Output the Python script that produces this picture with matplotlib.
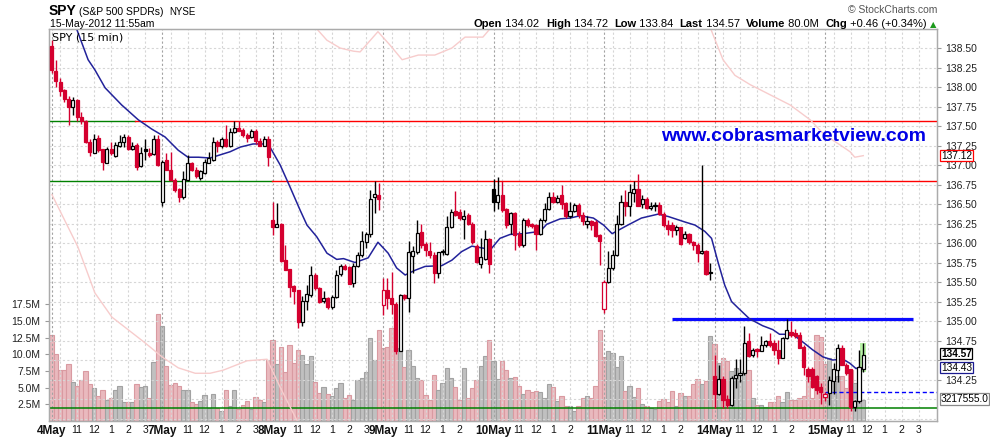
import matplotlib
matplotlib.use('Agg')
import matplotlib.pyplot as plt
import matplotlib.transforms as mtransforms
from matplotlib.patches import Rectangle
import numpy as np

plt.rcParams['font.family'] = ['Liberation Sans', 'DejaVu Sans']

# SPY 15 min bars, 26 bars per session
days = ['4May', '7May', '8May', '9May', '10May', '11May', '14May', '15May']
hour_labels = ['11', '12', '1', '2', '3']
bars_per_day = 26

opens = [
    138.52, 138.21, 138.07, 137.96, 137.85, 137.74, 137.83, 137.61, 137.56, 137.29,
    137.16, 137.35, 137.20, 137.03, 137.21, 137.11, 137.24, 137.30, 137.36, 137.21,
    137.26, 136.99, 137.20, 137.16, 137.14, 137.33,
    136.52, 137.06, 136.94, 136.81, 136.69, 136.59, 136.81, 137.02, 136.93, 136.84,
    136.90, 137.03, 137.06, 137.30, 137.25, 137.34, 137.25, 137.42, 137.48, 137.45,
    137.38, 137.36, 137.43, 137.31, 137.25, 137.33,
    136.30, 136.20, 136.24, 135.78, 135.67, 135.45, 135.40, 134.99, 135.26, 135.33,
    135.59, 135.42, 135.26, 135.29, 135.18, 135.31, 135.60, 135.71, 135.69, 135.49,
    135.71, 135.84, 136.01, 136.12, 136.59, 136.62,
    135.21, 135.40, 135.29, 135.22, 134.62, 135.33, 135.30, 135.83, 135.88, 136.14,
    135.99, 135.90, 135.85, 135.62, 135.88, 135.86, 136.20, 136.41, 136.40, 136.31,
    136.36, 136.25, 135.96, 135.73, 135.80, 136.05,
    136.69, 136.52, 136.62, 136.44, 136.24, 136.38, 136.12, 135.97, 136.29, 136.24,
    136.23, 136.12, 136.29, 136.44, 136.59, 136.53, 136.61, 136.51, 136.34, 136.41,
    136.49, 136.36, 136.25, 136.28, 136.27, 136.10,
    135.16, 135.50, 135.68, 135.84, 136.24, 136.52, 136.47, 136.64, 136.69, 136.50,
    136.57, 136.45, 136.47, 136.49, 136.37, 136.23, 136.23, 136.17, 136.20, 136.06,
    136.11, 136.01, 135.98, 135.87, 135.90, 135.63,
    134.30, 134.07, 134.26, 134.00, 133.92, 134.27, 134.31, 134.33, 134.75, 134.56,
    134.64, 134.62, 134.69, 134.74, 134.72, 134.63, 134.53, 134.78, 134.86, 134.85,
    134.82, 134.67, 134.39, 134.38, 134.29, 134.16,
    134.02, 134.08, 134.23, 134.37, 134.66, 134.44, 134.38, 133.90, 133.97, 134.39,
]
highs = [
    138.60, 138.35, 138.11, 137.98, 137.88, 137.87, 137.85, 137.68, 137.58, 137.34,
    137.40, 137.38, 137.21, 137.23, 137.30, 137.30, 137.38, 137.40, 137.38, 137.30,
    137.28, 137.23, 137.33, 137.22, 137.38, 137.38,
    137.06, 137.16, 137.17, 136.83, 136.70, 136.92, 137.13, 137.04, 136.97, 136.94,
    137.08, 137.17, 137.36, 137.32, 137.36, 137.51, 137.48, 137.56, 137.56, 137.48,
    137.41, 137.46, 137.46, 137.35, 137.37, 137.37,
    136.52, 136.51, 136.26, 135.98, 135.67, 135.46, 135.40, 135.32, 135.46, 135.71,
    135.61, 135.44, 135.39, 135.31, 135.33, 135.65, 135.73, 135.73, 135.71, 135.74,
    135.88, 136.16, 136.14, 136.68, 136.80, 136.77,
    135.55, 135.55, 135.63, 135.24, 135.35, 135.35, 136.03, 135.96, 136.29, 136.25,
    136.01, 136.01, 135.88, 135.89, 135.92, 136.34, 136.43, 136.67, 136.44, 136.42,
    136.38, 136.27, 135.99, 136.07, 136.17, 136.06,
    136.82, 136.85, 136.79, 136.45, 136.40, 136.40, 136.15, 136.32, 136.32, 136.26,
    136.25, 136.32, 136.51, 136.66, 136.65, 136.62, 136.74, 136.53, 136.53, 136.51,
    136.51, 136.40, 136.34, 136.29, 136.29, 136.12,
    135.53, 135.90, 135.91, 136.36, 136.62, 136.68, 136.76, 136.79, 136.89, 136.62,
    136.59, 136.53, 136.53, 136.53, 136.40, 136.29, 136.27, 136.23, 136.21, 136.15,
    136.13, 136.03, 136.00, 137.00, 135.91, 135.74,
    134.56, 134.44, 134.29, 134.05, 134.29, 134.51, 134.51, 134.93, 134.84, 134.65,
    134.65, 134.81, 134.76, 134.84, 134.76, 134.76, 134.80, 135.02, 135.00, 134.90,
    134.86, 134.69, 134.41, 134.41, 134.31, 134.20,
    134.09, 134.29, 134.46, 134.70, 134.69, 134.46, 134.39, 133.99, 134.63, 134.72,
]
lows = [
    138.18, 138.00, 137.88, 137.81, 137.51, 137.64, 137.56, 137.53, 137.28, 137.11,
    137.15, 137.17, 136.93, 137.02, 137.13, 137.10, 137.23, 137.23, 137.19, 137.19,
    136.93, 136.98, 137.07, 137.10, 137.13, 136.99,
    136.47, 136.93, 136.79, 136.65, 136.53, 136.57, 136.80, 136.92, 136.83, 136.81,
    136.89, 137.02, 137.05, 137.17, 137.22, 137.23, 137.23, 137.41, 137.43, 137.36,
    137.30, 137.35, 137.27, 137.24, 137.24, 136.99,
    136.10, 136.20, 135.76, 135.66, 135.31, 135.22, 134.91, 134.94, 135.14, 135.31,
    135.40, 135.23, 135.23, 135.16, 135.16, 135.30, 135.58, 135.66, 135.47, 135.44,
    135.69, 135.82, 135.93, 136.08, 136.39, 136.42,
    135.08, 135.16, 135.09, 134.58, 134.61, 135.27, 135.12, 135.62, 135.86, 135.93,
    135.83, 135.81, 135.49, 135.55, 135.85, 135.84, 136.19, 136.34, 136.30, 136.05,
    136.23, 135.99, 135.75, 135.68, 135.78, 135.62,
    136.41, 136.44, 136.40, 136.19, 136.12, 135.91, 135.95, 135.95, 136.21, 136.19,
    135.91, 136.10, 136.27, 136.42, 136.51, 136.51, 136.44, 136.32, 136.32, 136.40,
    136.32, 136.23, 136.19, 136.17, 136.08, 135.72,
    135.10, 135.49, 135.66, 135.83, 136.23, 136.34, 136.34, 136.53, 136.48, 136.45,
    136.44, 136.42, 136.41, 136.36, 136.21, 136.10, 136.08, 136.10, 135.97, 136.05,
    135.99, 135.91, 135.76, 135.86, 135.59, 135.53,
    133.88, 134.05, 133.88, 133.88, 133.91, 134.14, 134.22, 134.31, 134.54, 134.54,
    134.54, 134.61, 134.67, 134.67, 134.57, 134.45, 134.52, 134.77, 134.80, 134.78,
    134.65, 134.31, 134.22, 134.14, 134.06, 133.94,
    133.98, 133.92, 134.07, 134.22, 134.44, 134.31, 133.84, 133.84, 133.95, 134.35,
]
closes = [
    138.22, 138.08, 137.95, 137.85, 137.74, 137.83, 137.61, 137.56, 137.29, 137.17,
    137.34, 137.19, 137.04, 137.20, 137.15, 137.26, 137.30, 137.36, 137.21, 137.25,
    136.98, 137.16, 137.18, 137.13, 137.33, 137.00,
    137.04, 136.94, 136.81, 136.68, 136.59, 136.82, 137.02, 136.94, 136.86, 136.92,
    137.04, 137.09, 137.30, 137.24, 137.34, 137.24, 137.42, 137.47, 137.44, 137.38,
    137.35, 137.43, 137.31, 137.25, 137.33, 137.10,
    136.21, 136.24, 135.77, 135.66, 135.43, 135.39, 134.99, 135.26, 135.34, 135.59,
    135.42, 135.25, 135.29, 135.18, 135.31, 135.59, 135.71, 135.67, 135.48, 135.70,
    135.84, 136.02, 136.11, 136.56, 136.63, 136.56,
    135.40, 135.29, 135.22, 134.62, 135.33, 135.30, 135.88, 135.90, 136.13, 135.98,
    135.91, 135.85, 135.62, 135.89, 135.89, 136.20, 136.40, 136.36, 136.32, 136.35,
    136.24, 136.01, 135.76, 135.82, 136.05, 135.73,
    136.52, 136.62, 136.42, 136.23, 136.38, 136.10, 135.97, 136.29, 136.23, 136.22,
    136.12, 136.29, 136.44, 136.59, 136.53, 136.58, 136.50, 136.35, 136.41, 136.49,
    136.36, 136.28, 136.28, 136.23, 136.09, 136.02,
    135.50, 135.68, 135.85, 136.24, 136.52, 136.47, 136.65, 136.69, 136.48, 136.57,
    136.45, 136.47, 136.49, 136.37, 136.23, 136.18, 136.17, 136.20, 135.99, 136.11,
    136.01, 135.98, 135.87, 135.90, 135.60, 135.61,
    134.07, 134.26, 133.99, 133.92, 134.27, 134.31, 134.33, 134.72, 134.55, 134.63,
    134.61, 134.69, 134.74, 134.69, 134.63, 134.52, 134.78, 134.89, 134.82, 134.81,
    134.66, 134.41, 134.29, 134.16, 134.11, 134.09,
    134.07, 134.24, 134.38, 134.66, 134.44, 134.33, 133.90, 133.97, 134.41, 134.57,
]
# volume in millions of shares
volume = [
    12.9, 10.0, 7.6, 7.6, 8.5, 5.9, 5.2, 6.2, 7.5, 5.5, 5.0, 3.7, 4.7, 3.1, 3.4, 4.6,
    5.3, 2.8, 2.9, 2.9, 5.5, 5.1, 5.3, 3.4, 8.9, 16.1,
    14.2, 8.2, 5.4, 5.7, 5.2, 4.7, 4.6, 2.8, 2.6, 3.0, 3.9, 2.0, 4.0, 2.0, 1.5, 4.7,
    2.2, 4.7, 1.8, 2.4, 3.0, 1.8, 3.6, 3.2, 2.9, 9.1,
    12.1, 8.6, 11.1, 7.4, 11.4, 8.7, 10.6, 9.9, 8.5, 9.7, 5.9, 4.2, 5.1, 4.0, 3.8, 5.0,
    5.7, 3.5, 3.9, 3.2, 6.2, 6.5, 7.3, 12.5, 9.2, 13.6,
    11.0, 11.1, 14.0, 11.0, 11.0, 8.1, 10.7, 8.2, 6.4, 6.2, 3.9, 3.1, 6.9, 4.7, 5.7, 7.9,
    6.4, 5.1, 3.2, 8.0, 3.5, 5.0, 6.1, 8.2, 9.7, 12.2,
    9.0, 6.3, 9.0, 7.7, 6.5, 6.6, 5.3, 4.0, 4.7, 4.3, 4.5, 4.4, 3.4, 5.5, 5.1, 3.0,
    3.7, 2.3, 2.2, 1.5, 2.3, 3.4, 3.8, 3.5, 5.3, 13.6,
    9.6, 10.5, 10.2, 8.1, 9.7, 4.5, 5.2, 3.6, 4.9, 2.5, 2.2, 1.9, 1.8, 3.0, 3.3, 2.8,
    4.5, 2.2, 4.2, 3.8, 3.7, 5.5, 6.3, 5.5, 6.0, 12.7,
    11.5, 8.7, 9.4, 9.0, 7.5, 8.0, 6.2, 7.5, 7.7, 3.4, 2.4, 2.4, 2.1, 2.8, 2.8, 3.7,
    2.9, 4.3, 3.1, 3.1, 3.4, 3.7, 7.0, 3.4, 12.9, 12.6,
    8.6, 9.4, 6.5, 6.7, 6.7, 5.0, 7.7, 5.7, 5.0, 3.2,
]

# moving average overlay (bar position, price)
ma_pos = [5.5, 6.0, 8.6, 10.2, 12.6, 16.5, 20.4, 23.6, 26.7, 29.8, 32.1, 34.6, 37.3,
          42.0, 44.4, 47.4, 50.2, 51.4, 53.8, 56.1, 58.5, 60.1, 62.4, 64.8, 67.1,
          68.7, 71.4, 74.5, 76.8, 79.2, 81.2, 83.2, 85.5, 87.9, 91.8, 94.2, 96.5,
          98.9, 102.0, 103.2, 105.5, 107.9, 111.0, 115.0, 116.5, 119.7, 122.0, 124.4,
          127.5, 129.9, 131.9, 135.6, 138.8, 142.7, 145.1, 149.0, 151.4, 153.7, 155.3,
          156.8, 158.4, 160.0, 161.5, 164.2, 167.3, 169.7, 171.3, 174.4, 176.8, 179.1,
          181.5, 183.8, 186.2, 187.8, 189.3, 191.0]
ma_val = [138.80, 138.73, 138.35, 138.22, 137.99, 137.77, 137.58, 137.46, 137.36, 137.19,
          137.10, 137.10, 137.09, 137.17, 137.23, 137.27, 137.27, 137.23, 137.00, 136.72,
          136.42, 136.23, 136.08, 135.87, 135.79, 135.80, 135.75, 135.81, 136.01, 135.87,
          135.68, 135.59, 135.65, 135.70, 135.71, 135.78, 135.89, 135.96, 135.93, 135.91,
          136.06, 136.11, 136.12, 136.15, 136.24, 136.31, 136.32, 136.35, 136.32, 136.23,
          136.12, 136.23, 136.32, 136.37, 136.34, 136.27, 136.23, 136.15, 136.06, 135.76,
          135.46, 135.25, 135.17, 135.03, 134.94, 134.89, 134.83, 134.83, 134.73, 134.63,
          134.54, 134.50, 134.51, 134.46, 134.39, 134.43]

# light pink overlay, leaves the chart at the bottom and comes back from the top
pink_pos = [0.1, 6.2, 10.2, 14.2, 22.0, 26.0, 29.8, 33.8, 37.3, 40.4, 46.0, 50.7, 53.8,
            57.8, 59.0, 60.5, 62.0, 62.5, 64.8, 67.9, 71.0, 72.6, 76.8, 79.6, 82.5, 86.3,
            90.2, 94.2, 97.3, 101.5, 104.0, 154.5, 155.0, 158.0, 160.8, 164.4, 169.1,
            173.8, 178.5, 182.0, 185.5, 187.9, 189.0, 191.0]
pink_val = [136.62, 135.95, 135.36, 135.05, 134.72, 134.54, 134.40, 134.33, 134.33, 134.37,
            134.49, 134.51, 134.15, 133.72, 133.50, np.nan, 138.90, 138.74, 138.60, 138.50,
            138.46, 138.45, 138.71, 138.54, 138.35, 138.41, 138.41, 138.50, 138.64, 138.64,
            138.80, 138.80, 138.76, 138.35, 138.15, 138.03, 137.90, 137.77, 137.58, 137.38,
            137.26, 137.17, 137.10, 137.12]

price_ticks = [134.25, 134.50, 134.75, 135.00, 135.25, 135.50, 135.75, 136.00, 136.25,
               136.50, 136.75, 137.00, 137.25, 137.50, 137.75, 138.00, 138.25, 138.50]
price_grid = [133.75, 134.00] + price_ticks
vol_ticks = [2.5, 5.0, 7.5, 10.0, 12.5, 15.0, 17.5]

RED = '#d4002f'
W, H = 990, 438


def fx(x):
    return x / W


def fy(y):
    return 1 - y / H


def tag(axis, y, text, edge, weight='normal'):
    trans = mtransforms.blended_transform_factory(axis.transAxes, axis.transData)
    axis.text(1.0 + 4 / 888, y, text, transform=trans, ha='left', va='center',
              fontsize=7.3, fontweight=weight, zorder=10, clip_on=False,
              bbox=dict(boxstyle='square,pad=0.06', fc='white', ec=edge, lw=0.9))


fig = plt.figure(figsize=(W / 100, H / 100), dpi=100)
axv = fig.add_axes([fx(49), fy(421), (937 - 49) / W, (421 - 29) / H])
ax = axv.twinx()
ax.patch.set_visible(False)

idx = np.arange(len(closes))
o = np.array(opens)
c = np.array(closes)
prev = np.r_[o[0], c[:-1]]
down = c < prev
filled = c < o
col = np.where(down, RED, 'black')

# volume
axv.bar(idx, volume, width=1.0, color=np.where(down, '#e9b9be', '#c0c0c0'),
        edgecolor=np.where(down, '#d99aa1', '#a2a2a2'), linewidth=0.8, zorder=2)
axv.axhline(1.9, color='#008000', lw=1.1, zorder=3)
axv.plot([bars_per_day * 7, 210], [4.4, 4.4], color='#0000ff', lw=1.0,
         ls=(0, (3, 2)), zorder=3)
axv.set_ylim(0, 58.8)
axv.set_yticks(vol_ticks, [f'{v:.1f}M' for v in vol_ticks])

# vertical grid: day starts darker, hours lighter
for d in range(len(days)):
    start = d * bars_per_day
    axv.axvline(start, color='#a3a3a3', lw=0.8, ls=(0, (2, 2)), zorder=2.5)
    for h in [2, 6, 10, 14, 18, 22]:
        axv.axvline(start + h, color='#d6d6d6', lw=0.8, ls=(0, (2, 2)), zorder=2.5)

for p in price_grid:
    ax.axhline(p, color='#d6d6d6', lw=0.8, ls=(0, (2, 2)), zorder=0.5)

# horizontal levels
x_end = 210
ax.plot([-1, 19.6], [137.57, 137.57], color='#008000', lw=1.0, zorder=1)
ax.plot([19.6, x_end], [137.57, 137.57], color='#ff0000', lw=1.0, zorder=1)
ax.plot([-1, 51.9], [136.79, 136.79], color='#008000', lw=1.0, zorder=1)
ax.plot([51.9, x_end], [136.79, 136.79], color='#ff0000', lw=1.0, zorder=1)
ax.plot([146, 202.7], [135.03, 135.03], color='#0a0aff', lw=2.3, zorder=1,
        solid_capstyle='butt')

ax.plot(pink_pos, pink_val, color='#f7cccc', lw=1.0, zorder=1.5)
ax.plot(ma_pos, ma_val, color='#22229a', lw=1.1, zorder=2)

# highlight of the latest bar
last = len(closes) - 1
ax.add_patch(Rectangle((last - 0.7, lows[last] - 0.01), 1.4,
                       highs[last] - lows[last] + 0.01, fc='#b8f2a6', ec='none',
                       zorder=2.2))

# candles
ax.vlines(idx, lows, highs, colors=col, lw=1.0, zorder=3)
body_low = np.minimum(o, c)
body_h = np.maximum(np.abs(c - o), 0.012)
ax.bar(idx, body_h, bottom=body_low, width=0.72,
       color=np.where(filled, col, 'white'), edgecolor=col, linewidth=0.9, zorder=4)

ax.set_ylim(133.718, 138.744)
ax.set_xlim(-0.6, 208.35)
# the 134.50 label sits behind the last-price tags
ax.set_yticks(price_ticks, ['' if p == 134.50 else f'{p:.2f}' for p in price_ticks])

for a in (ax, axv):
    for s in a.spines.values():
        s.set_color('#ababab')
        s.set_linewidth(0.9)
ax.tick_params(axis='y', labelsize=7.5, length=3, width=0.8, color='#9a9a9a',
               pad=3, labelcolor='#222222')
axv.tick_params(axis='y', labelsize=7.5, length=3, width=0.8, color='#9a9a9a',
                pad=3, labelcolor='#222222')

# time axis labels; the 3pm label is dropped when a wide date label follows
xt, xl = [], []
for d, name in enumerate(days):
    xt.append(d * bars_per_day)
    xl.append(name)
    nxt = days[d + 1] if d + 1 < len(days) else ''
    for k, h in enumerate(hour_labels):
        if h == '3' and len(nxt) > 4:
            continue
        xt.append(d * bars_per_day + 6 + 4 * k)
        xl.append(h)
axv.set_xticks(xt, xl)
for lab in axv.get_xticklabels():
    if 'May' in lab.get_text():
        lab.set_fontweight('bold')
        lab.set_fontsize(8.5)
    else:
        lab.set_fontsize(7.5)
axv.tick_params(axis='x', length=0, pad=3, labelcolor='#111111')

# value tags on the right
tag(ax, 137.12, '137.12', '#ff0000')
tag(ax, 134.58, '134.57', 'black', 'bold')
tag(ax, 134.40, '134.43', '#1a1a90')
tag(axv, 3.3, '3217555.0', '#888888')

# header
fig.text(fx(49), fy(15), 'SPY', fontsize=10, fontweight='bold', va='baseline')
fig.text(fx(79), fy(15), '(S&P 500 SPDRs)', fontsize=7.5, va='baseline')
fig.text(fx(169), fy(15), 'NYSE', fontsize=7, va='baseline')
fig.text(fx(50), fy(27), '15-May-2012 11:55am', fontsize=7.5, va='baseline')
fig.text(fx(937), fy(13), '\u00a9 StockCharts.com', fontsize=7.5, color='#555555',
         ha='right', va='baseline')
ax.text(3 / 888, 1 - 11 / 392, 'SPY (15 min)', transform=ax.transAxes, fontsize=8,
        family='DejaVu Sans', va='baseline', zorder=6)

pieces = [('Open', 'bold'), (' 134.02  ', 'normal'), ('High', 'bold'),
          (' 134.72  ', 'normal'), ('Low', 'bold'), (' 133.84  ', 'normal'),
          ('Last', 'bold'), (' 134.57  ', 'normal'), ('Volume', 'bold'),
          (' 80.0M  ', 'normal'), ('Chg', 'bold'), (' +0.46 (+0.34%) ', 'normal')]
t = fig.text(fx(474), fy(27), pieces[0][0], fontsize=8, fontweight=pieces[0][1],
             va='baseline')
for txt, wt in pieces[1:]:
    t = ax.annotate(txt, xy=(1, 0), xycoords=t, fontsize=8, fontweight=wt,
                    va='bottom', ha='left', annotation_clip=False)
ax.annotate('\u25b2', xy=(1, 0), xycoords=t, fontsize=6, color='#1c9a1c',
            va='bottom', ha='left', family='DejaVu Sans', annotation_clip=False)

fig.text(fx(794), fy(141), 'www.cobrasmarketview.com', fontsize=14, fontweight='bold',
         color='#0000e6', ha='center', va='baseline')

fig.savefig('out.png', dpi=100)
